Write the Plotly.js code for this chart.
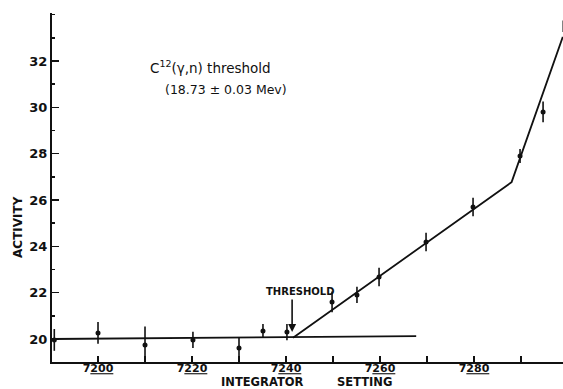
<!DOCTYPE html>
<html>
<head>
<meta charset="utf-8">
<script src="https://cdn.plot.ly/plotly-3.0.1.min.js"></script>
<style>html,body{margin:0;padding:0;background:#fff;}#chart{width:563px;height:389px;}</style>
</head>
<body>
<div id="chart"></div>
<script>
// Measured data points (integrator setting, activity, error)
const pointX = [7190.7, 7200, 7210, 7220.2, 7230, 7235.1, 7240.2, 7249.8, 7255.1, 7259.8, 7269.8, 7279.8, 7289.8, 7294.7, 7299];
const pointY = [19.96, 20.26, 19.74, 19.96, 19.61, 20.35, 20.3, 21.6, 21.9, 22.68, 24.19, 25.7, 27.9, 29.8, 33.5];
const pointErr = [0.47, 0.47, 0.8, 0.35, 0.45, 0.3, 0.35, 0.45, 0.35, 0.4, 0.4, 0.4, 0.3, 0.45, 0.25];

// Background (flat) line
const flatX = [7190.2, 7267.7];
const flatY = [20.0, 20.12];

// Rising fit line
const riseX = [7241.5, 7288, 7298.9];
const riseY = [20.05, 26.77, 33.04];

// Tick labels
const xTickVals = [7200, 7220, 7240, 7260, 7280];
const xTickText = ['7<u>200</u>', '7<u>220</u>', '7<u>240</u>', '7<u>260</u>', '7<u>280</u>'];
const yTickVals = [20, 22, 24, 26, 28, 30, 32];

const ink = '#111';
const fnt = '"DejaVu Sans", sans-serif';

const traces = [
  {x: flatX, y: flatY, mode: 'lines', line: {color: ink, width: 1.8}, hoverinfo: 'skip'},
  {x: riseX, y: riseY, mode: 'lines', line: {color: ink, width: 1.8}, hoverinfo: 'skip'},
  {x: pointX, y: pointY, mode: 'markers', cliponaxis: false,
   marker: {color: ink, size: 5},
   error_y: {type: 'data', array: pointErr, visible: true, color: ink, thickness: 1.6, width: 0}}
];

const layout = {
  width: 563, height: 389,
  margin: {l: 52, r: 0, t: 13, b: 27},
  paper_bgcolor: '#fff', plot_bgcolor: '#fff',
  showlegend: false,
  xaxis: {
    range: [7190.21, 7298.94],
    showgrid: false, zeroline: false,
    showline: true, linecolor: ink, linewidth: 2,
    ticks: 'inside', ticklen: 6, tickwidth: 1.5, tickcolor: ink,
    tickmode: 'array', tickvals: xTickVals, ticktext: xTickText,
    ticklabelstandoff: -5,
    tickfont: {family: fnt, size: 11, color: ink, weight: 'bold'},
    minor: {dtick: 10, ticks: 'inside', ticklen: 6, tickwidth: 1.5, tickcolor: ink, showgrid: false},
    fixedrange: true
  },
  yaxis: {
    range: [19.007, 34.07],
    showgrid: false, zeroline: false,
    showline: true, linecolor: ink, linewidth: 2,
    ticks: 'inside', ticklen: 7, tickwidth: 1.5, tickcolor: ink,
    tickmode: 'array', tickvals: yTickVals,
    tickfont: {family: fnt, size: 13, color: ink, weight: 'bold'},
    minor: {dtick: 1, ticks: 'inside', ticklen: 3, tickwidth: 1.5, tickcolor: ink, showgrid: false},
    fixedrange: true
  },
  annotations: [
    {xref: 'x', yref: 'y', x: 7210.6, y: 31.74, xanchor: 'left', yanchor: 'middle', showarrow: false,
     text: 'C<sup>12</sup>(γ,n) threshold', font: {family: fnt, size: 13.5, color: ink}},
    {xref: 'x', yref: 'y', x: 7213.8, y: 30.75, xanchor: 'left', yanchor: 'middle', showarrow: false,
     text: '(18.73 ± 0.03 Mev)', font: {family: fnt, size: 12.5, color: ink}},
    {xref: 'x', yref: 'y', x: 7243.0, y: 22.03, xanchor: 'center', yanchor: 'middle', showarrow: false,
     text: 'THRESHOLD', font: {family: fnt, size: 10, color: ink, weight: 'bold'}},
    {xref: 'x', yref: 'y', x: 7241.3, y: 20.3, axref: 'x', ayref: 'y', ax: 7241.3, ay: 21.77,
     text: '', showarrow: true, arrowhead: 2, arrowsize: 1, arrowwidth: 1.6, arrowcolor: ink},
    {xref: 'paper', yref: 'paper', x: 0.411, y: -0.058, xanchor: 'center', yanchor: 'middle', showarrow: false,
     text: 'INTEGRATOR', font: {family: fnt, size: 11.5, color: ink, weight: 'bold'}},
    {xref: 'paper', yref: 'paper', x: 0.6115, y: -0.058, xanchor: 'center', yanchor: 'middle', showarrow: false,
     text: 'SETTING', font: {family: fnt, size: 11.5, color: ink, weight: 'bold'}},
    {xref: 'paper', yref: 'paper', x: -0.0665, y: 0.387, xanchor: 'center', yanchor: 'middle', showarrow: false,
     textangle: -90, text: 'ACTIVITY', font: {family: fnt, size: 12, color: ink, weight: 'bold'}}
  ]
};

Plotly.newPlot('chart', traces, layout, {displayModeBar: false, staticPlot: true});
</script>
</body>
</html>
